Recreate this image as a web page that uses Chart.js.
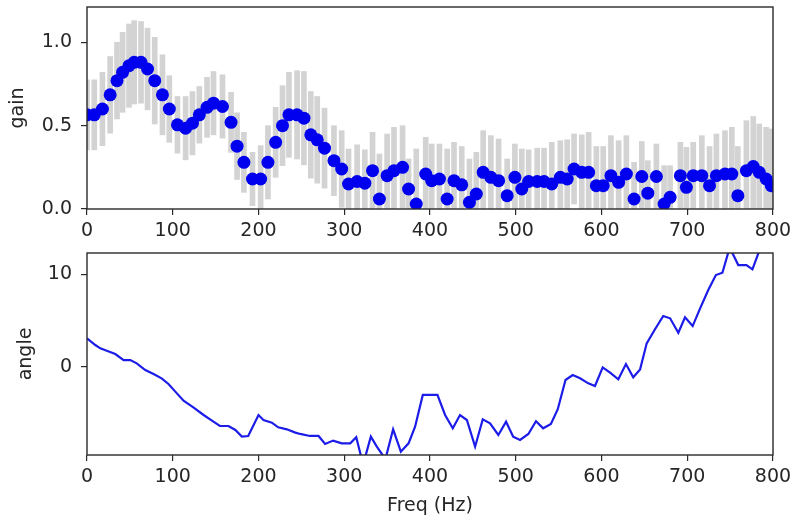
<!DOCTYPE html>
<html><head><meta charset="utf-8">
<script src="https://cdn.jsdelivr.net/npm/chart.js@4.4.0/dist/chart.umd.min.js"></script>
<style>
html,body{margin:0;padding:0;background:#fff;}
#w{position:relative;width:796px;height:519px;overflow:hidden;}
#c1{position:absolute;left:0;top:0;}
#c2{position:absolute;left:0;top:245px;}
</style></head><body>
<div id="w"><canvas id="c1" width="796" height="245"></canvas><canvas id="c2" width="796" height="274"></canvas></div>
<script>
// ---- data ----
const gainFreq = [0, 8.5, 18, 27, 35, 41.5, 49, 55, 63, 70.6, 79, 88, 96, 105.5, 115, 123, 131, 140, 147.5, 158,
  168, 175, 183, 193, 202.5, 211, 220, 228, 235.5, 245, 253, 261, 268.5, 277, 288, 297, 305, 315, 324, 333,
  341, 350, 358, 368, 375, 384, 395, 402, 411, 420, 428, 437, 446, 454, 462, 471, 480, 490, 499, 507,
  515, 525, 533, 542, 552, 560, 568, 577, 585, 594, 602, 611, 620, 629, 638, 647, 654, 664, 673, 680,
  692, 699, 707, 717, 726, 734, 744, 752, 759, 769, 777, 784, 792, 798];
const gain = [0.565, 0.565, 0.60, 0.685, 0.77, 0.82, 0.86, 0.88, 0.88, 0.84, 0.77, 0.685, 0.60, 0.505, 0.485, 0.515, 0.565, 0.61, 0.635, 0.615,
  0.52, 0.377, 0.28, 0.18, 0.18, 0.28, 0.40, 0.50, 0.565, 0.565, 0.545, 0.445, 0.415, 0.365, 0.29, 0.24, 0.15, 0.165, 0.155, 0.23,
  0.06, 0.20, 0.23, 0.25, 0.12, 0.03, 0.21, 0.17, 0.18, 0.06, 0.17, 0.145, 0.04, 0.09, 0.22, 0.19, 0.17, 0.08, 0.19, 0.12,
  0.165, 0.165, 0.165, 0.15, 0.19, 0.18, 0.24, 0.22, 0.22, 0.14, 0.14, 0.20, 0.16, 0.21, 0.06, 0.195, 0.095, 0.195, 0.03, 0.07,
  0.20, 0.13, 0.20, 0.20, 0.14, 0.20, 0.21, 0.21, 0.08, 0.23, 0.255, 0.22, 0.18, 0.14];
const gainErr = [0.21, 0.21, 0.22, 0.23, 0.23, 0.24, 0.25, 0.25, 0.245, 0.245, 0.26, 0.24, 0.20, 0.17, 0.19, 0.19, 0.17, 0.18, 0.19, 0.19,
  0.18, 0.20, 0.18, 0.16, 0.20, 0.22, 0.21, 0.24, 0.255, 0.265, 0.28, 0.26, 0.26, 0.24, 0.21, 0.23, 0.21, 0.22, 0.20, 0.23,
  0.27, 0.25, 0.26, 0.25, 0.18, 0.33, 0.22, 0.22, 0.21, 0.30, 0.23, 0.23, 0.26, 0.25, 0.25, 0.25, 0.25, 0.22, 0.20, 0.24,
  0.19, 0.20, 0.20, 0.25, 0.22, 0.235, 0.21, 0.225, 0.24, 0.235, 0.235, 0.24, 0.25, 0.23, 0.22, 0.21, 0.195, 0.195, 0.23, 0.19,
  0.20, 0.24, 0.20, 0.24, 0.235, 0.25, 0.26, 0.28, 0.295, 0.30, 0.30, 0.29, 0.31, 0.34];

const angleFreq = [0, 9.7, 15.5, 23, 33, 42.7, 50.5, 58, 68, 77.6, 87, 95, 103, 112.6, 124, 136, 145.7, 155, 165, 173,
  180.6, 188, 200, 205.8, 215.6, 223, 233, 243, 248.6, 260, 270, 277.7, 287, 297, 307, 314, 322, 331, 338, 348,
  357, 366, 375, 382.6, 391.6, 400, 408.7, 417.6, 426.6, 435, 443, 452.6, 461.5, 470, 479.7, 488.7, 497, 505, 514.7, 523.6,
  532, 541, 549, 558, 566.4, 575, 584.6, 592.4, 601.4, 610, 619.6, 628.5, 637, 645, 652.7, 662.4, 672, 680, 689.6, 697.4,
  706.3, 715, 724.5, 733.4, 741, 749.5, 759.5, 769, 776, 785, 793, 800];
const angle = [3.07, 2.35, 1.99, 1.73, 1.37, 0.72, 0.72, 0.36, -0.36, -0.79, -1.26, -1.87, -2.7, -3.68, -4.4, -5.23, -5.84, -6.42, -6.42, -6.85,
  -7.57, -7.5, -5.23, -5.77, -6.06, -6.56, -6.78, -7.14, -7.28, -7.5, -7.5, -8.37, -8.0, -8.3, -8.3, -7.64, -10.6, -7.57, -8.66, -10.0,
  -6.78, -9.2, -8.3, -6.49, -3.06, -3.06, -3.06, -5.23, -6.67, -5.23, -5.77, -8.66, -5.7, -6.13, -7.39, -5.95, -7.57, -7.93, -7.28, -5.9,
  -6.67, -6.2, -4.6, -1.44, -0.9, -1.26, -1.8, -2.09, -0.07, -0.65, -1.37, 0.29, -1.15, -0.29, 2.53, 4.05, 5.49, 5.24, 3.68, 5.35,
  4.4, 6.32, 8.3, 9.92, 10.17, 12.9, 11.0, 11.0, 10.54, 12.8, 14.0, 14.5];

const freqTicks = [0, 100, 200, 300, 400, 500, 600, 700, 800];
const gainTicks = [0, 0.5, 1.0];
const angleTicks = [0, 10];

// ---- styling / helpers ----
const FONT = 'DejaVu Sans';
const TXT = '#262626';
const FS = 19;

const frame = {
  id: 'frame',
  afterDatasetsDraw(chart) {
    const {ctx, chartArea: a} = chart;
    ctx.save();
    ctx.strokeStyle = '#2a2a2a';
    ctx.lineWidth = 1.4;
    ctx.strokeRect(a.left, a.top, a.right - a.left, a.bottom - a.top);
    ctx.restore();
  }
};

function gridOpts() {
  return {display: true, drawOnChartArea: false, drawTicks: true, tickLength: 6, color: '#2a2a2a', lineWidth: 1.2, offset: false};
}

function xScale(height, title) {
  const s = {
    type: 'linear', min: 0, max: 800, offset: false,
    afterBuildTicks: sc => { sc.ticks = freqTicks.map(v => ({value: v})); },
    afterFit: sc => { sc.height = height; sc.paddingLeft = 0; sc.paddingRight = 0; },
    grid: gridOpts(),
    border: {display: false},
    ticks: {color: TXT, font: {family: FONT, size: FS}, padding: 5, maxRotation: 0, autoSkip: false,
      callback: v => String(v)}
  };
  if (title) {
    s.title = {display: true, text: title, color: TXT, font: {family: FONT, size: FS}, padding: {top: 0, bottom: 2}};
  }
  return s;
}

function yScale(min, max, ticks, fmt, title, tpad) {
  return {
    type: 'linear', min: min, max: max,
    afterBuildTicks: sc => { sc.ticks = ticks.map(v => ({value: v})); },
    afterFit: sc => { sc.width = 87; sc.paddingTop = 0; sc.paddingBottom = 0; },
    grid: gridOpts(),
    border: {display: false},
    ticks: {color: TXT, font: {family: FONT, size: FS}, padding: 9, callback: fmt},
    title: {display: true, text: title, color: TXT, font: {family: FONT, size: FS}, padding: {top: tpad, bottom: 0}}
  };
}

Chart.defaults.animation = false;

// ---- top chart: gain with error bars ----
const errData = gainFreq.map((f, i) => ({x: f, y: [gain[i] - gainErr[i], gain[i] + gainErr[i]]}));
const dotData = gainFreq.map((f, i) => ({x: f, y: gain[i]}));

new Chart(document.getElementById('c1'), {
  type: 'scatter',
  data: {
    datasets: [
      {type: 'bar', data: errData, backgroundColor: '#d3d3d3', borderWidth: 0, barThickness: 5, grouped: false, order: 2, clip: 0},
      {type: 'scatter', data: dotData, backgroundColor: '#0000ee', borderWidth: 0, pointRadius: 6.5, pointHoverRadius: 6.5, order: 1, clip: 0}
    ]
  },
  options: {
    responsive: false, devicePixelRatio: 1,
    layout: {padding: {left: 0, right: 23, top: 7, bottom: 0}},
    plugins: {legend: {display: false}, tooltip: {enabled: false}},
    scales: {
      x: xScale(36, null),
      y: yScale(0, 1.212, gainTicks, v => Number(v).toFixed(1), 'gain', 7)
    }
  },
  plugins: [frame]
});

// ---- bottom chart: angle ----
const angleData = angleFreq.map((f, i) => ({x: f, y: angle[i]}));
new Chart(document.getElementById('c2'), {
  type: 'line',
  data: {
    datasets: [
      {data: angleData, borderColor: '#1c1ce8', borderWidth: 2.2, pointRadius: 0, tension: 0, fill: false, clip: 0}
    ]
  },
  options: {
    responsive: false, devicePixelRatio: 1,
    layout: {padding: {left: 0, right: 23, top: 8, bottom: 0}},
    plugins: {legend: {display: false}, tooltip: {enabled: false}},
    scales: {
      x: xScale(64, 'Freq (Hz)'),
      y: yScale(-9.56, 12.31, angleTicks, v => String(v), 'angle', 15)
    }
  },
  plugins: [frame]
});
</script>
</body></html>
